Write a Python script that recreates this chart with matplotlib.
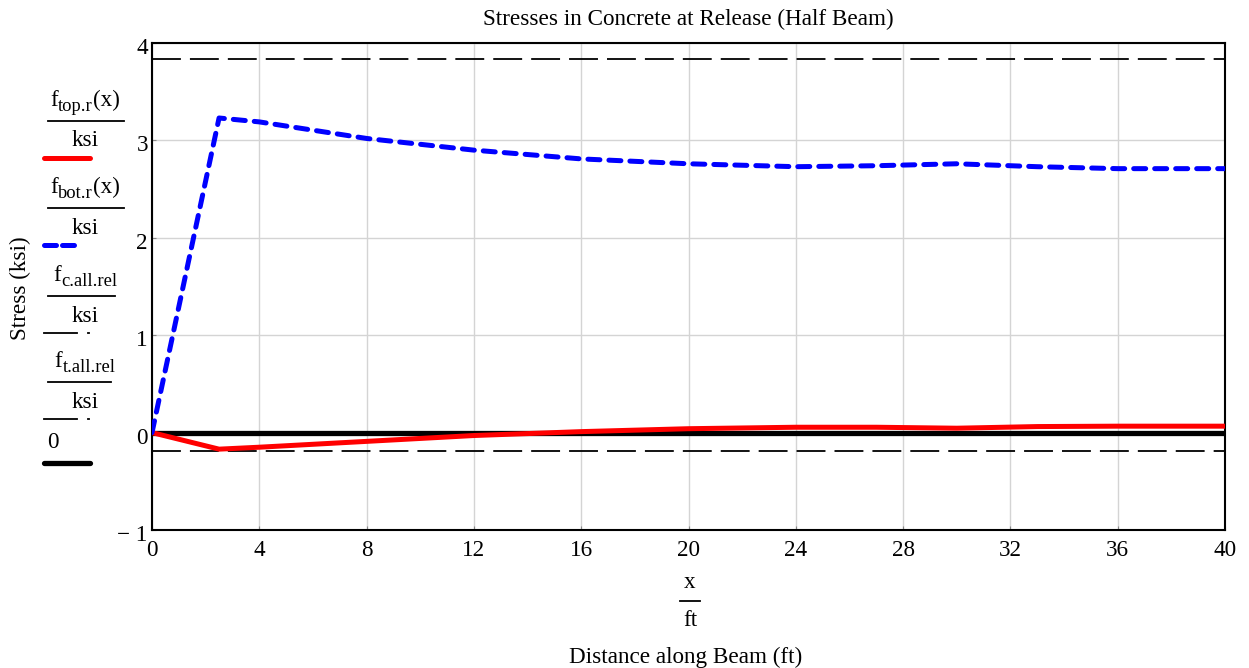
import matplotlib
matplotlib.use("Agg")
import matplotlib.pyplot as plt
import matplotlib.transforms as mtransforms
from matplotlib.lines import Line2D

plt.rcParams["font.family"] = ["Liberation Serif", "DejaVu Serif"]

# Distance along the half beam (ft) and stresses (ksi)
x_ft = [0, 2.5, 4, 8, 12, 16, 20, 24, 27, 30, 33, 36, 40]
f_top = [0.0, -0.17, -0.15, -0.09, -0.03, 0.01, 0.04, 0.055, 0.055, 0.045, 0.062, 0.066, 0.066]
f_bot = [0.0, 3.23, 3.19, 3.02, 2.90, 2.81, 2.76, 2.73, 2.74, 2.76, 2.73, 2.71, 2.71]
f_c_all_rel = 3.84
f_t_all_rel = -0.19

x_ticks = [0, 4, 8, 12, 16, 20, 24, 28, 32, 36, 40]
y_ticks = [-1, 0, 1, 2, 3, 4]
y_tick_labels = ["\u2212 1", "0", "1", "2", "3", "4"]

FS = 16.7
W, H = 1249, 668
fig = plt.figure(figsize=(W / 100, H / 100), dpi=100)
ax = fig.add_axes([152 / W, 1 - 530 / H, (1225 - 152) / W, (530 - 43) / H])

ax.plot(x_ft, f_top, color="#ff0000", lw=3.6, solid_joinstyle="miter", zorder=4)
ax.plot(x_ft, f_bot, color="#0000ff", lw=3.6, dashes=(2.4, 1.8),
        dash_capstyle="round", solid_joinstyle="round", zorder=4)
ax.axhline(f_c_all_rel, color="black", lw=1.3, dashes=(16, 5), zorder=3)
ax.axhline(f_t_all_rel, color="black", lw=1.3, dashes=(16, 5), zorder=3)
ax.axhline(0, color="black", lw=3.8, zorder=3)

ax.set_xlim(0, 40)
ax.set_ylim(-1, 4)
ax.set_xticks(x_ticks)
ax.set_yticks(y_ticks)
ax.set_yticklabels(y_tick_labels)
ax.grid(True, color="#d4d4d4", lw=1.0)
ax.set_axisbelow(True)
ax.tick_params(direction="in", length=3, labelsize=FS, color="#888888")
ax.tick_params(axis="x", pad=7)
ax.tick_params(axis="y", pad=3)
shift_down = mtransforms.ScaledTranslation(0, -3 / 100, fig.dpi_scale_trans)
for lab in ax.get_yticklabels():
    lab.set_transform(lab.get_transform() + shift_down)
for s in ax.spines.values():
    s.set_linewidth(1.5)
    s.set_color("black")

# Title and axis labels
fig.text(688 / W, 1 - 19 / H, "Stresses in Concrete at Release (Half Beam)",
         ha="center", va="center", fontsize=FS)
fig.text(20 / W, 1 - 288 / H, "Stress (ksi)", rotation=90,
         ha="center", va="center", fontsize=FS)
fig.text(690 / W, 1 - 583 / H, "x", ha="center", va="center", fontsize=FS)
fig.add_artist(Line2D([680 / W, 700 / W], [1 - 601 / H] * 2, color="black", lw=1.3))
fig.text(690 / W, 1 - 620 / H, "ft", ha="center", va="center", fontsize=FS)
fig.text(686 / W, 1 - 657 / H, "Distance along Beam (ft)",
         ha="center", va="center", fontsize=FS)

renderer = fig.canvas.get_renderer()


def subscripted(xc, y, main, sub, tail=""):
    """Draw main + lowered subscript + tail, centred at pixel xc, baseline y."""
    parts = [(main, FS, 0), (sub, FS * 0.8, -5), (tail, FS, 0)]
    texts = []
    for s, size, dy in parts:
        if not s:
            continue
        t = fig.text(0, 0, s, fontsize=size, ha="left", va="baseline")
        texts.append((t, dy))
    widths = [t.get_window_extent(renderer).width for t, _ in texts]
    x = xc - sum(widths) / 2
    for (t, dy), w in zip(texts, widths):
        t.set_position((x / W, 1 - (y - dy) / H))
        x += w


def legend_entry(main, sub, tail, top_y, bar_x1, sample):
    subscripted(85, top_y + 6, main, sub, tail)
    fig.add_artist(Line2D([48 / W, bar_x1 / W], [1 - (top_y + 21) / H] * 2,
                          color="black", lw=1.3))
    fig.text(85 / W, 1 - (top_y + 41) / H, "ksi", ha="center", va="center", fontsize=FS)
    sample(top_y + 58)


def red_sample(y):
    fig.add_artist(Line2D([44 / W, 90 / W], [1 - y / H] * 2, color="#ff0000",
                          lw=3.6, solid_capstyle="round"))


def blue_sample(y):
    fig.add_artist(Line2D([44 / W, 80 / W], [1 - y / H] * 2, color="#0000ff",
                          lw=3.6, dashes=(2.4, 1.2), dash_capstyle="round"))


def dash_sample(y):
    fig.add_artist(Line2D([44 / W, 77 / W], [1 - y / H] * 2, color="black", lw=1.3))
    fig.add_artist(Line2D([88 / W, 89 / W], [1 - y / H] * 2, color="black", lw=1.3))


legend_entry("f", "top.r", "(x)", 100, 124, red_sample)
legend_entry("f", "bot.r", "(x)", 187, 124, blue_sample)
legend_entry("f", "c.all.rel", "", 275, 115, dash_sample)
legend_entry("f", "t.all.rel", "", 361, 111, dash_sample)

fig.text(53 / W, 1 - 442 / H, "0", ha="center", va="center", fontsize=FS)
fig.add_artist(Line2D([44 / W, 90 / W], [1 - 463 / H] * 2, color="black",
                      lw=3.8, solid_capstyle="round"))

fig.savefig("out.png", dpi=100, facecolor="white")
